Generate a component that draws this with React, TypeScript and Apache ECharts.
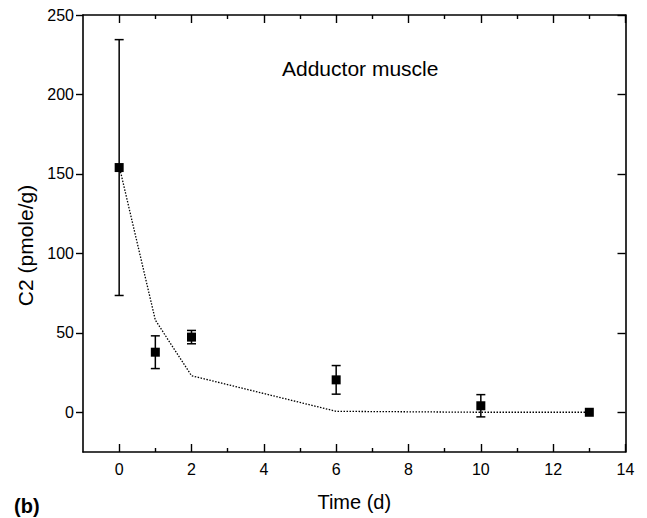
import React, { useEffect, useRef } from "react";
import * as echarts from "echarts";

const times = [0, 1, 2, 6, 10, 13];
const means = [154, 37.8, 47.3, 20.4, 4.1, 0];
const errors = [80.5, 10.3, 4.2, 9, 7, 0];

const modelTimes = [0, 1, 2, 6, 10, 13];
const modelValues = [155, 58, 23, 0.6, 0, 0];

const xMajorTicks = [0, 2, 4, 6, 8, 10, 12, 14];
const xMinorTicks = [1, 3, 5, 7, 9, 11, 13];
const yTicks = [0, 50, 100, 150, 200, 250];

const FONT = '"Liberation Sans", Arial, Helvetica, sans-serif';

export default function App() {
  const ref = useRef<HTMLDivElement>(null);
  useEffect(() => {
    document.body.style.margin = "0";
    if (!ref.current) return;
    const chart = echarts.init(ref.current, null, { renderer: "svg" });
    const axisLine = { show: true, onZero: false, lineStyle: { color: "#000", width: 1.6 } };
    const noLine = { show: false, onZero: false };
    const tickStyle = { color: "#000", width: 1.4 };
    const errData = times
      .map((t, i) => [t, means[i] - errors[i], means[i] + errors[i]])
      .filter((_, i) => errors[i] > 0);
    const option: any = {
      animation: false,
      backgroundColor: "#fff",
      textStyle: { fontFamily: FONT, color: "#000" },
      grid: { left: 83, top: 15, width: 542.5, height: 437, containLabel: false },
      xAxis: [
        {
          type: "value", position: "bottom", min: -1, max: 14,
          axisLine,
          axisTick: { show: true, inside: true, length: 8, customValues: xMajorTicks, lineStyle: tickStyle },
          axisLabel: { show: true, customValues: xMajorTicks, margin: 9, fontSize: 16, color: "#000", fontFamily: FONT },
          splitLine: { show: false },
          name: "Time (d)", nameLocation: "middle", nameGap: 40,
          nameTextStyle: { fontSize: 20, color: "#000", fontFamily: FONT },
        },
        {
          type: "value", position: "bottom", min: -1, max: 14,
          axisLine: noLine,
          axisTick: { show: true, inside: true, length: 4, customValues: xMinorTicks, lineStyle: tickStyle },
          axisLabel: { show: false },
          splitLine: { show: false },
        },
        {
          type: "value", position: "top", min: -1, max: 14,
          axisLine,
          axisTick: { show: true, inside: true, length: 8, customValues: xMajorTicks, lineStyle: tickStyle },
          axisLabel: { show: false },
          splitLine: { show: false },
        },
        {
          type: "value", position: "top", min: -1, max: 14,
          axisLine: noLine,
          axisTick: { show: true, inside: true, length: 4, customValues: xMinorTicks, lineStyle: tickStyle },
          axisLabel: { show: false },
          splitLine: { show: false },
        },
      ],
      yAxis: [
        {
          type: "value", position: "left", min: -25, max: 250,
          axisLine,
          axisTick: { show: true, inside: false, length: 7, customValues: yTicks, lineStyle: tickStyle },
          axisLabel: { show: true, customValues: yTicks, margin: 9, fontSize: 16, color: "#000", fontFamily: FONT },
          splitLine: { show: false },
          name: "C2 (pmole/g)", nameLocation: "middle", nameGap: 47,
          nameTextStyle: { fontSize: 21, color: "#000", fontFamily: FONT, padding: [0, 24, 0, 0] },
        },
        {
          type: "value", position: "right", min: -25, max: 250,
          axisLine,
          axisTick: { show: true, inside: true, length: 8, customValues: yTicks, lineStyle: tickStyle },
          axisLabel: { show: false },
          splitLine: { show: false },
        },
      ],
      graphic: [
        {
          type: "text", left: 282, top: 58,
          style: { text: "Adductor muscle", font: `21px ${FONT}`, fill: "#000" },
        },
        {
          type: "text", left: 14, top: 496,
          style: { text: "(b)", font: `bold 20px ${FONT}`, fill: "#000" },
        },
      ],
      series: [
        {
          type: "line",
          data: modelTimes.map((t, i) => [t, modelValues[i]]),
          showSymbol: false,
          symbol: "none",
          lineStyle: { color: "#000", width: 1.3, type: [1.5, 1.5] },
          z: 1,
        },
        {
          type: "custom",
          data: errData,
          encode: { x: 0, y: [1, 2] },
          renderItem: (params: any, api: any) => {
            const x = api.value(0);
            const lo = api.coord([x, api.value(1)]);
            const hi = api.coord([x, api.value(2)]);
            const w = 4.5;
            const style = { stroke: "#000", lineWidth: 1.5, fill: null };
            return {
              type: "group",
              children: [
                { type: "line", shape: { x1: lo[0], y1: lo[1], x2: hi[0], y2: hi[1] }, style },
                { type: "line", shape: { x1: lo[0] - w, y1: lo[1], x2: lo[0] + w, y2: lo[1] }, style },
                { type: "line", shape: { x1: hi[0] - w, y1: hi[1], x2: hi[0] + w, y2: hi[1] }, style },
              ],
            };
          },
          z: 2,
        },
        {
          type: "scatter",
          data: times.map((t, i) => [t, means[i]]),
          symbol: "rect",
          symbolSize: 9,
          itemStyle: { color: "#000", opacity: 1 },
          z: 3,
        },
      ],
    };
    chart.setOption(option);
    return () => chart.dispose();
  }, []);
  return <div ref={ref} style={{ width: 647, height: 518 }} />;
}
